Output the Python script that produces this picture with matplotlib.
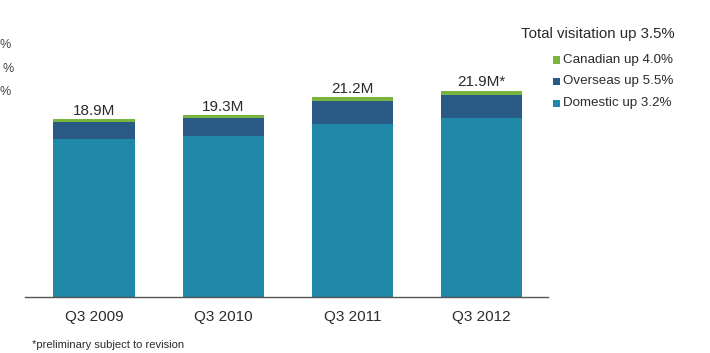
import matplotlib
matplotlib.use("Agg")
import matplotlib.pyplot as plt
import numpy as np

plt.rcParams['font.family'] = ['Liberation Sans', 'DejaVu Sans']

quarters = ["Q3 2009", "Q3 2010", "Q3 2011", "Q3 2012"]
domestic = [16.8, 17.1, 18.4, 19.0]
overseas = [1.8, 1.9, 2.4, 2.5]
canadian = [0.3, 0.3, 0.4, 0.4]
totals = [18.9, 19.3, 21.2, 21.9]
total_labels = ["18.9M", "19.3M", "21.2M", "21.9M*"]
legend_title = "Total visitation up 3.5%"
legend_labels = ["Canadian up 4.0%", "Overseas up 5.5%", "Domestic up 3.2%"]

c_dom = "#1f88a8"
c_ovs = "#285a85"
c_can = "#79b43e"
txt = "#2b2b2b"

W, H = 710, 353
fig = plt.figure(figsize=(W / 100, H / 100), dpi=100)

# axes placement in pixels
ax_l, ax_r, ax_b, ax_t = 25, 548, 297, 71
ax = fig.add_axes([ax_l / W, (H - ax_b) / H, (ax_r - ax_l) / W, (ax_b - ax_t) / H])

x = np.arange(len(quarters))
bw = 0.63
ax.bar(x, domestic, bw, color=c_dom, linewidth=0)
ax.bar(x, overseas, bw, bottom=domestic, color=c_ovs, linewidth=0)
ax.bar(x, canadian, bw, bottom=np.add(domestic, overseas), color=c_can, linewidth=0)

for xi, tot, lab in zip(x, totals, total_labels):
    ax.text(xi, tot + 0.15, lab, ha="center", va="bottom", fontsize=11, color=txt)

ax.set_xlim(-0.535, 3.515)
ax.set_ylim(0, 24)
ax.set_xticks(x)
ax.set_xticklabels(quarters, fontsize=11, color=txt)
ax.tick_params(axis="x", length=0, pad=9)
ax.set_yticks([])
for s in ["top", "right", "left"]:
    ax.spines[s].set_visible(False)
ax.spines["bottom"].set_color("#555555")
ax.spines["bottom"].set_linewidth(1.0)


def px(xp, yp):
    return xp / W, 1 - yp / H


# legend block
fig.text(*px(675, 34), legend_title, ha="right", va="center", fontsize=10.8, color=txt)
leg_y = [60, 81, 103]
leg_c = [c_can, c_ovs, c_dom]
for yy, cc, lab in zip(leg_y, leg_c, legend_labels):
    fig.patches.append(plt.Rectangle(px(553, yy + 3.5), 7 / W, 7 / H,
                                     transform=fig.transFigure, color=cc, linewidth=0))
    fig.text(*px(563, yy), lab, ha="left", va="center", fontsize=9.6, color=txt)

# footnote
fig.text(*px(32, 345), "*preliminary subject to revision", ha="left", va="center",
         fontsize=8, color=txt)

# partial labels at the left edge
for xx, yy in [(0, 45), (3, 69), (0, 92)]:
    fig.text(*px(xx, yy), "%", ha="left", va="center", fontsize=9, color="#444444")

fig.savefig("out.png", dpi=100)
